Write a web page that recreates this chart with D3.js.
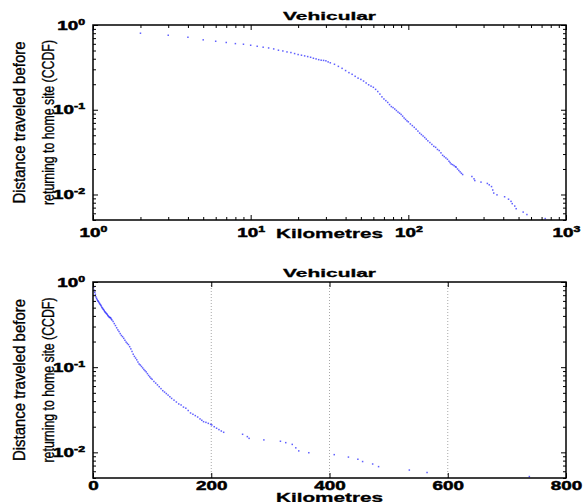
<!DOCTYPE html>
<html lang="en">
<head>
<meta charset="UTF-8">
<title>Vehicular</title>
<style>
  body { margin: 0; background: #fff; }
  svg text { font-family: 'Liberation Sans', Arial, sans-serif; fill: #000; }
</style>
</head>
<body>
<div id="chart-area"></div>
<script src="https://cdnjs.cloudflare.com/ajax/libs/d3/7.8.5/d3.min.js"></script>
<script>

// distance (km) and CCDF; both panels plot the same points
const distKm = [1, 2, 3, 4, 5, 6, 7, 8, 9, 10, 11, 12, 13, 14, 15, 16, 17, 18, 19, 20,
  21, 22, 23, 24, 25, 26, 27, 28, 29, 30, 31, 32, 34, 36, 38, 40, 42, 44, 46, 48,
  50, 52, 54, 56, 58, 60, 62, 64, 66, 68, 70, 72, 74, 76, 78, 80, 82, 84, 86, 88,
  90, 92, 94, 96, 98, 100, 103, 106, 109, 112, 115, 118, 121, 124, 127, 130, 133, 137, 141, 145,
  149, 153, 157, 161, 165, 169, 173, 177, 181, 184, 187, 191, 195, 199, 201, 205, 209, 213, 217, 221,
  253, 261, 264, 289, 317, 326, 337, 343, 348, 365, 408, 432, 448, 456, 473, 483, 535, 565, 738];
const ccdf = [0.87, 0.80, 0.757, 0.717, 0.668, 0.643, 0.622, 0.603, 0.593, 0.577, 0.561, 0.547, 0.536, 0.522, 0.504, 0.494, 0.481, 0.473, 0.460, 0.448,
  0.440, 0.432, 0.424, 0.416, 0.405, 0.398, 0.390, 0.384, 0.382, 0.378, 0.367, 0.358, 0.344, 0.325, 0.308, 0.290, 0.274, 0.262, 0.248, 0.236,
  0.228, 0.218, 0.207, 0.197, 0.190, 0.184, 0.174, 0.164, 0.153, 0.142, 0.134, 0.128, 0.122, 0.115, 0.109, 0.106, 0.102, 0.098, 0.094, 0.091,
  0.088, 0.084, 0.080, 0.077, 0.074, 0.072, 0.068, 0.065, 0.062, 0.059, 0.056, 0.053, 0.051, 0.049, 0.047, 0.045, 0.043, 0.041, 0.039, 0.037,
  0.036, 0.034, 0.033, 0.031, 0.029, 0.028, 0.027, 0.026, 0.0247, 0.0238, 0.0229, 0.0225, 0.0219, 0.0213, 0.0210, 0.0200, 0.0192, 0.0185, 0.0178, 0.0172,
  0.0163, 0.0153, 0.0146, 0.0140, 0.0135, 0.0130, 0.0124, 0.0113, 0.0104, 0.0099, 0.0094, 0.0088, 0.0083, 0.0078, 0.0073, 0.0068, 0.0062, 0.0058, 0.0052];

const titleText = 'Vehicular';
const xLabelText = 'Kilometres';
const yLabelLines = ['Distance traveled before', 'returning to home site (CCDF)'];
const xLogMajor = [1, 10, 100, 1000];
const yLogMajor = [0.01, 0.1, 1];
const xLinTicks = [0, 200, 400, 600, 800];
const xLinGrid = [200, 400, 600];

const points = distKm.map((d, i) => ({km: d, p: ccdf[i]}));

const width = 584, height = 502;
const left = 93, plotW = 473;
const stretch = 1.45;   // the original figure was widened, so horizontal text looks wide

const svg = d3.select('#chart-area').append('svg')
    .attr('width', width)
    .attr('height', height);

function powLabel(sel) {
    // turn plain ticks into 10 with a superscript exponent
    sel.each(function (d) {
        const t = d3.select(this).text(null);
        const e = Math.round(Math.log10(d));
        t.append('tspan').text('10');
        t.append('tspan').attr('dy', '-5').attr('font-size', 8.5).text(e);
    });
}

function drawPanel(top, h, xScale, opts) {
    const g = svg.append('g').attr('transform', `translate(${left}, ${top})`);
    const yScale = d3.scaleLog().domain([0.005, 1]).range([h, 0]);

    // vertical grid (bottom panel only)
    if (opts.grid) {
        g.append('g').selectAll('line')
            .data(opts.grid)
            .enter().append('line')
            .attr('x1', d => xScale(d)).attr('x2', d => xScale(d))
            .attr('y1', 0).attr('y2', h)
            .attr('stroke', '#a8a8a8')
            .attr('stroke-width', 1)
            .attr('stroke-dasharray', '1,2');
    }

    // points
    g.append('g').selectAll('rect')
        .data(points)
        .enter().append('rect')
        .attr('x', d => xScale(d.km) - 0.75)
        .attr('y', d => yScale(d.p) - 0.75)
        .attr('width', 1.5)
        .attr('height', 1.5)
        .attr('fill', '#2a2aff')
        .attr('opacity', 0.75);

    const yMinor = yScale.ticks().filter(v => !yLogMajor.some(m => Math.abs(m - v) < 1e-9));

    // minor y ticks, both sides
    g.append('g').call(d3.axisLeft(yScale).tickValues(yMinor).tickSize(-3).tickFormat(''));
    g.append('g').attr('transform', `translate(${plotW}, 0)`)
        .call(d3.axisRight(yScale).tickValues(yMinor).tickSize(-3).tickFormat(''));

    // major y ticks with labels
    const gy = g.append('g')
        .call(d3.axisLeft(yScale).tickValues(yLogMajor).tickSize(-5).tickPadding(5.5));
    gy.selectAll('.tick text').call(powLabel);
    g.append('g').attr('transform', `translate(${plotW}, 0)`)
        .call(d3.axisRight(yScale).tickValues(yLogMajor).tickSize(-5).tickFormat(''));

    // x ticks
    if (opts.log) {
        const xMinor = xScale.ticks().filter(v => !xLogMajor.includes(v));
        g.append('g').attr('transform', `translate(0, ${h})`)
            .call(d3.axisBottom(xScale).tickValues(xMinor).tickSize(-3).tickFormat(''));
        g.append('g').call(d3.axisTop(xScale).tickValues(xMinor).tickSize(-3).tickFormat(''));
        const gx = g.append('g').attr('transform', `translate(0, ${h})`)
            .call(d3.axisBottom(xScale).tickValues(xLogMajor).tickSize(-5).tickPadding(8));
        gx.selectAll('.tick text').call(powLabel);
        g.append('g').call(d3.axisTop(xScale).tickValues(xLogMajor).tickSize(-5).tickFormat(''));
    } else {
        g.append('g').attr('transform', `translate(0, ${h})`)
            .call(d3.axisBottom(xScale).tickValues(xLinTicks).tickSize(-5).tickPadding(3));
        g.append('g').call(d3.axisTop(xScale).tickValues(xLinTicks).tickSize(-5).tickFormat(''));
    }

    g.selectAll('.domain').remove();
    g.selectAll('.tick line').attr('stroke', '#000');
    g.selectAll('.tick text')
        .attr('font-size', 13)
        .attr('font-weight', 'bold')
        .attr('stroke', '#000').attr('stroke-width', 0.5)
        .attr('transform', `scale(${stretch}, 1)`);

    // box
    g.append('rect')
        .attr('width', plotW).attr('height', h)
        .attr('fill', 'none')
        .attr('stroke', '#000')
        .attr('stroke-width', 1.5);

    // title and x label
    g.append('text')
        .attr('x', plotW / 2).attr('y', -5)
        .attr('text-anchor', 'middle')
        .attr('font-weight', 'bold').attr('font-size', 11.5)
        .attr('stroke', '#000').attr('stroke-width', 0.3)
        .attr('textLength', 93).attr('lengthAdjust', 'spacingAndGlyphs')
        .text(titleText);
    g.append('text')
        .attr('x', plotW / 2).attr('y', h + opts.xLabelGap)
        .attr('text-anchor', 'middle')
        .attr('font-weight', 'bold').attr('font-size', 13)
        .attr('stroke', '#000').attr('stroke-width', 0.3)
        .attr('textLength', 107).attr('lengthAdjust', 'spacingAndGlyphs')
        .text(xLabelText);

    // two-line y label
    const yl = svg.append('g')
        .attr('transform', `translate(0, ${top + h / 2}) rotate(-90)`);
    yLabelLines.forEach((line, i) => {
        yl.append('text')
            .attr('x', 0).attr('y', i === 0 ? 25 : 54)
            .attr('text-anchor', 'middle')
            .attr('font-size', 16)
            .attr('stroke', '#000').attr('stroke-width', 0.35)
            .attr('textLength', i === 0 ? 162 : 165)
            .attr('lengthAdjust', 'spacingAndGlyphs')
            .text(line);
    });
}

drawPanel(25, 195, d3.scaleLog().domain([1, 1000]).range([0, plotW]), {log: true, xLabelGap: 17.5});
drawPanel(282, 196, d3.scaleLinear().domain([0, 800]).range([0, plotW]), {grid: xLinGrid, xLabelGap: 23.5});

</script>
</body>
</html>
